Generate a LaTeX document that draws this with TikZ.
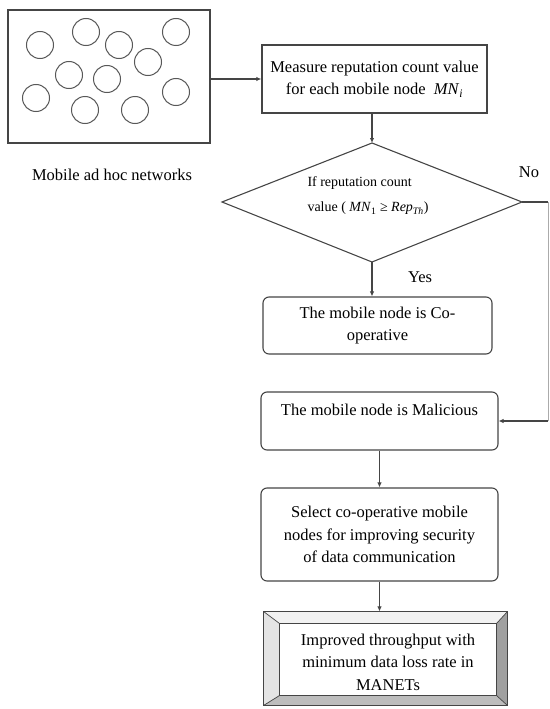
\documentclass[tikz,border=0pt]{standalone}
\usepackage{fontspec}
\setmainfont{Liberation Serif}
\usetikzlibrary{arrows.meta,calc}
\definecolor{ln}{HTML}{454545}
\definecolor{bvT}{HTML}{F2F2F2}
\definecolor{bvL}{HTML}{E4E4E4}
\definecolor{bvR}{HTML}{A0A0A0}
\definecolor{bvB}{HTML}{BDBDBD}
\tikzset{
  box/.style={draw=ln, line width=1.1pt, inner sep=0pt, align=center},
  rbox/.style={box, rounded corners=6pt},
  circ/.style={draw=ln!90, line width=1pt, circle, minimum size=27pt, inner sep=0pt},
  arr/.style={draw=ln, line width=1.1pt, -{Latex[length=5pt,width=4.5pt]}},
  conn/.style={draw=ln, line width=1.1pt},
  txt/.style={font=\fontsize{16.5}{22.5}\selectfont, align=center, inner sep=0pt},
  stxt/.style={font=\fontsize{14}{25}\selectfont, align=left, inner sep=0pt}
}
\begin{document}
\begin{tikzpicture}[x=1pt,y=-1pt]
\useasboundingbox (0,0) rectangle (549,709);
% network box
\node[box, minimum width=202pt, minimum height=133pt] (net) at (109,76.5) {};
\foreach \cx/\cy [count=\i] in {40/45,86/32,119/45,176/32,148/62,69/75,107/79,176/92,36/98,85/110,135/110}
  \node[circ] (c\i) at (\cx,\cy) {};
\node[txt] (cap) at (112,175) {Mobile ad hoc networks};
% measure box
\node[box, line width=1.4pt, minimum width=225pt, minimum height=68pt, txt] (meas) at (374.5,79)
  {Measure reputation count value\\for each mobile node \ \textit{MN}\textsubscript{\textit{i}}};
\draw[arr] (meas.west -| net.east) -- (meas.west);
% diamond
\coordinate (dT) at (372,143);
\coordinate (dL) at (222,202);
\coordinate (dR) at (522,202);
\coordinate (dB) at (372,262);
\draw[conn, line join=miter] (dL) -- (dT) -- (dR) -- (dB) -- cycle;
\node[stxt] (dtxt) at (368,196) {If reputation count\\value ( \textit{MN}\textsubscript{1} ≥ \textit{Rep}\textsubscript{\textit{Th}})};
\draw[arr] (meas.south -| dT) -- (dT);
\node[txt] (no) at (529,172) {No};
\node[txt] (yes) at (420,277) {Yes};
% cooperative
\node[rbox, txt, minimum width=229pt, minimum height=57pt] (coop) at (377.5,325.5) {The mobile node is Co-\\operative};
\draw[arr] (dB) -- (dB |- coop.north);
% malicious
\node[rbox, minimum width=237pt, minimum height=58pt] (mal) at (379.5,421) {};
\node[txt] (maltxt) at (379.5,410) {The mobile node is Malicious};
\coordinate (nr) at (548,202);
\coordinate (nb) at (548,421);
\draw[conn] (dR) -- (nr);
\draw[draw=ln!45, line width=0.8pt] (nr) -- (nb);
\draw[arr] (nb) -- (mal.east);
% select
\node[rbox, txt, minimum width=237pt, minimum height=93pt] (sel) at (379.5,534.5)
  {Select co-operative mobile\\nodes for improving security\\of data communication};
\draw[arr] (mal.south) -- (sel.north);
% final bevelled box
\node[box, minimum width=243pt, minimum height=93pt] (fin) at (385.5,658.5) {};
\coordinate (iNW) at ($(fin.north west)+(16,12)$);
\coordinate (iNE) at ($(fin.north east)+(-11,12)$);
\coordinate (iSW) at ($(fin.south west)+(16,-10)$);
\coordinate (iSE) at ($(fin.south east)+(-11,-10)$);
\fill[bvT] (fin.north west) -- (fin.north east) -- (iNE) -- (iNW) -- cycle;
\fill[bvL] (fin.north west) -- (iNW) -- (iSW) -- (fin.south west) -- cycle;
\fill[bvR] (fin.north east) -- (fin.south east) -- (iSE) -- (iNE) -- cycle;
\fill[bvB] (fin.south west) -- (iSW) -- (iSE) -- (fin.south east) -- cycle;
\draw[conn] (fin.north west) rectangle (fin.south east);
\draw[conn] (iNW) rectangle (iSE);
\draw[conn, line width=0.7pt] (fin.north west) -- (iNW) (fin.north east) -- (iNE) (fin.south west) -- (iSW) (fin.south east) -- (iSE);
\node[txt] (fintxt) at (388,662) {Improved throughput with\\minimum data loss rate in\\MANETs};
\draw[arr] (sel.south) -- (sel.south |- fin.north);
\end{tikzpicture}
\end{document}
